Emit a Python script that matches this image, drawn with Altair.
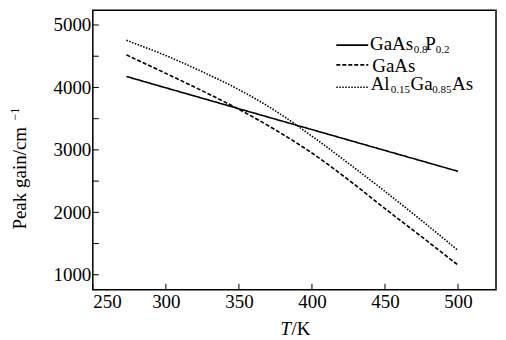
import altair as alt
import pandas as pd

# ---- data ----
temps = [273, 300, 325, 350, 375, 400, 425, 450, 475, 500]
gaasp = [4176, 3994, 3827, 3659, 3492, 3325, 3158, 2991, 2824, 2657]
gaas = [4521, 4225, 3945, 3650, 3320, 2950, 2520, 2060, 1610, 1155]
algaas = [4755, 4510, 4250, 3965, 3625, 3220, 2785, 2335, 1870, 1390]
series_names = ["GaAsP", "GaAs", "AlGaAs"]
x_ticks = [250, 300, 350, 400, 450, 500]
y_ticks = [1000, 1500, 2000, 2500, 3000, 3500, 4000, 4500, 5000]

rows = []
for name, vals in zip(series_names, [gaasp, gaas, algaas]):
    for t, v in zip(temps, vals):
        rows.append({"T": t, "gain": v, "series": name})
df = pd.DataFrame(rows)

W, H = 404, 280
FONT = "Liberation Serif"
xscale = alt.Scale(domain=[250, 526], nice=False, zero=False)
yscale = alt.Scale(domain=[760, 5235], nice=False, zero=False)

lines = alt.Chart(df).mark_line(color="black", strokeWidth=1.6, interpolate="monotone").encode(
    x=alt.X("T:Q", scale=xscale,
            axis=alt.Axis(values=x_ticks, title=None, ticks=False, domain=False,
                          grid=False, labelFont=FONT, labelFontSize=19, format="d",
                          labelColor="black", labelPadding=3)),
    y=alt.Y("gain:Q", scale=yscale,
            axis=alt.Axis(values=y_ticks, title=None, ticks=False, domain=False,
                          grid=False, labelFont=FONT, labelFontSize=19, format="d",
                          labelColor="black", labelPadding=2)),
    strokeDash=alt.StrokeDash("series:N", legend=None,
                              scale=alt.Scale(domain=series_names,
                                              range=[[1, 0], [4, 2], [1.5, 1.5]])),
    detail="series:N",
)

xt = alt.Chart(pd.DataFrame({"v": x_ticks})).mark_rule(color="black", strokeWidth=1).encode(
    x=alt.X("v:Q", scale=xscale), y=alt.value(H), y2=alt.value(H - 6))
yt = alt.Chart(pd.DataFrame({"v": y_ticks})).mark_rule(color="black", strokeWidth=1).encode(
    y=alt.Y("v:Q", scale=yscale), x=alt.value(0), x2=alt.value(6))

one = pd.DataFrame({"k": [0]})


def txt(s, x, y, size=19, align="left", style="normal", angle=0, baseline="alphabetic"):
    return alt.Chart(one).mark_text(
        font=FONT, fontSize=size, align=align, baseline=baseline, color="black",
        fontStyle=style, angle=angle
    ).encode(x=alt.value(x), y=alt.value(y), text=alt.value(s))


def sample(y, dash, sw=1.6):
    return alt.Chart(one).mark_rule(color="black", strokeWidth=sw, strokeDash=dash).encode(
        x=alt.value(244), x2=alt.value(276), y=alt.value(y))


SUB = 11
leg = [
    sample(34.9, [1, 0]),
    sample(54.7, [4, 2]),
    sample(77.0, [1.5, 1.5]),
    txt("GaAs", 277.7, 39.7), txt("0.8", 321.5, 42.6, SUB), txt("P", 333.2, 39.7),
    txt("0.2", 343.7, 42.6, SUB),
    txt("GaAs", 280, 61.4),
    txt("Al", 278.4, 80.0), txt("0.15", 298.6, 83.0, SUB), txt("Ga", 318.4, 80.0),
    txt("0.85", 340.2, 83.0, SUB), txt("As", 360.0, 80.0),
]

titles = [
    txt("Peak  gain/cm", -66.6, 219.7, 19, align="left", angle=270),
    txt("\u22121", -73.5, 110.5, 12, align="left", angle=270),
    txt("T", 198.7, 325.7, 19, align="right", style="italic"),
    txt("/K", 199, 325.7, 19, align="left"),
]

chart = alt.layer(lines, xt, yt, *leg, *titles).properties(
    width=W, height=H,
    padding={"left": 85, "top": 2, "right": 2, "bottom": 48},
    autosize=alt.AutoSizeParams(type="none"),
    background="white",
).configure_view(stroke="black", strokeWidth=1.5)

chart.save("out.html", embed_options={"renderer": "svg", "actions": False})
